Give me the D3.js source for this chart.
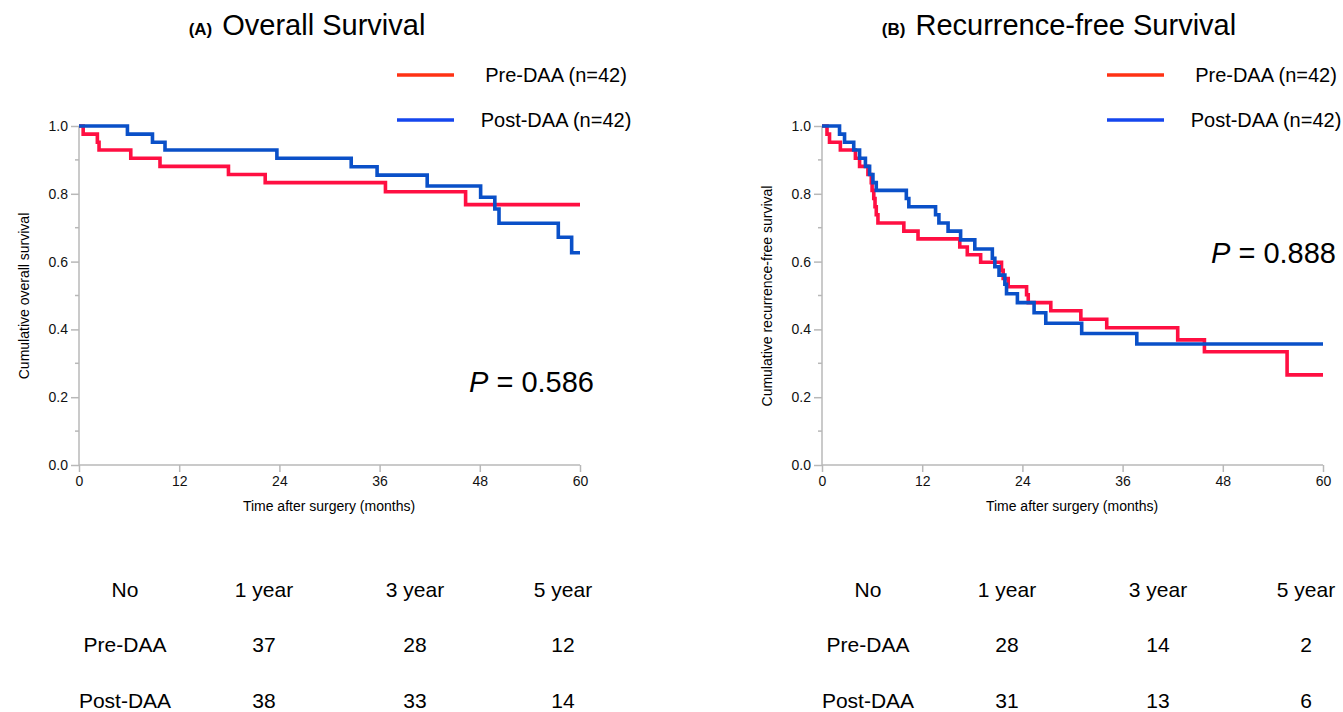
<!DOCTYPE html>
<html>
<head>
<meta charset="utf-8">
<script src="https://cdn.jsdelivr.net/npm/d3@7"></script>
<style>
  body { margin: 0; background: #fff; }
  svg { font-family: "Liberation Sans", Arial, sans-serif; }
</style>
</head>
<body>
<div id="chart"></div>
<script>
// [month, survival after the step]
const preOS = [[0,1],[0.5,0.976],[2.2,0.952],[2.4,0.929],[6.2,0.905],[9.7,0.881],[17.9,0.857],[22.3,0.833],[36.7,0.806],[46.3,0.768]];
const postOS = [[0,1],[5.8,0.976],[8.8,0.952],[10.3,0.929],[23.7,0.905],[32.6,0.88],[35.7,0.855],[41.7,0.823],[48.1,0.79],[49.8,0.755],[50.3,0.713],[57.4,0.672],[59.0,0.626]];
const preRFS = [[0,1],[0.6,0.976],[0.9,0.952],[2.2,0.929],[4.0,0.905],[4.5,0.881],[5.5,0.857],[5.9,0.833],[6.0,0.81],[6.2,0.786],[6.35,0.762],[6.5,0.738],[6.7,0.714],[9.8,0.69],[11.5,0.667],[16.5,0.643],[17.4,0.62],[19.0,0.598],[21.5,0.574],[21.7,0.55],[22.3,0.526],[24.5,0.502],[24.7,0.479],[27.4,0.455],[31.0,0.43],[34.1,0.405],[42.6,0.369],[45.8,0.334],[55.7,0.266]];
const postRFS = [[0,1],[2.1,0.976],[2.7,0.952],[3.8,0.929],[4.5,0.905],[5.2,0.881],[5.7,0.857],[6.1,0.833],[6.5,0.81],[10.1,0.786],[10.4,0.762],[13.6,0.738],[14.0,0.714],[15.1,0.69],[16.6,0.664],[18.3,0.637],[20.4,0.61],[20.7,0.585],[21.2,0.56],[21.9,0.533],[22.1,0.505],[23.4,0.479],[25.4,0.449],[26.8,0.418],[31.1,0.388],[37.7,0.357]];

const xTicks = [0, 12, 24, 36, 48, 60];
const yTicks = [0, 0.2, 0.4, 0.6, 0.8, 1.0];
const yMinor = [0.1, 0.3, 0.5, 0.7, 0.9];
const groups = ['Pre-DAA (n=42)', 'Post-DAA (n=42)'];
const tableHead = ['No', '1 year', '3 year', '5 year'];
const tableRows = ['Pre-DAA', 'Post-DAA'];
const osCounts = [[37, 28, 12], [38, 33, 14]];
const rfsCounts = [[28, 14, 2], [31, 13, 6]];

const curveColors = ['#ff0f42', '#0a50c8'];
const legendColors = ['#ff3214', '#1446ee'];
const axisColor = '#b8b8b8';

const svg = d3.select('#chart').append('svg')
    .attr('width', 1343).attr('height', 712);

function drawPanel(o) {
  const g = svg.append('g').attr('transform', 'translate(' + o.left + ',0)');
  const x = d3.scaleLinear().domain([0, 60]).range([0, 501]);
  const y = d3.scaleLinear().domain([0, 1]).range([465, 126]);

  // title
  const t = g.append('text').attr('x', o.titleX).attr('y', 35).attr('text-anchor', 'middle');
  t.append('tspan').attr('font-size', 17).attr('font-weight', 'bold').text(o.tag);
  t.append('tspan').attr('font-size', 29).attr('dx', 10).text(o.title);

  // axes
  const yAxis = g.append('g').call(d3.axisLeft(y).tickValues(yTicks).tickFormat(d3.format('.1f')).tickSize(8).tickPadding(3));
  g.append('g').selectAll('line').data(yMinor).enter().append('line')
      .attr('x1', -4).attr('x2', 0).attr('y1', d => y(d)).attr('y2', d => y(d));
  const xAxis = g.append('g').attr('transform', 'translate(0,465)')
      .call(d3.axisBottom(x).tickValues(xTicks).tickSize(7).tickPadding(4));
  g.selectAll('.domain, .tick line, g > line').attr('stroke', axisColor).attr('stroke-width', 1.5);
  g.selectAll('.tick text').attr('font-size', 14).attr('fill', '#111');
  yAxis.select('.domain').attr('d', 'M0,465V126');
  xAxis.select('.domain').attr('d', 'M0,0H501');

  g.append('text').attr('x', 250).attr('y', 511).attr('text-anchor', 'middle')
      .attr('font-size', 14).text('Time after surgery (months)');
  g.append('text').attr('transform', 'translate(' + o.yLabelX + ',296) rotate(-90)')
      .attr('text-anchor', 'middle').attr('font-size', 14).text(o.yLabel);

  // curves
  const line = d3.line().x(d => x(d[0])).y(d => y(d[1])).curve(d3.curveStepAfter);
  o.series.forEach((s, i) => {
    const pts = s.concat([[60, s[s.length - 1][1]]]);
    g.append('path').attr('d', line(pts)).attr('fill', 'none')
        .attr('stroke', curveColors[i]).attr('stroke-width', 3.6);
  });

  // legend
  groups.forEach((name, i) => {
    const ly = 75 + i * 45;
    g.append('line').attr('x1', o.legX).attr('x2', o.legX + 57).attr('y1', ly).attr('y2', ly)
        .attr('stroke', legendColors[i]).attr('stroke-width', 3.5);
    g.append('text').attr('x', o.legX + 159).attr('y', ly + 7).attr('text-anchor', 'middle')
        .attr('font-size', 20).text(name);
  });

  // p-value
  const p = g.append('text').attr('x', o.pX).attr('y', o.pY).attr('text-anchor', 'end').attr('font-size', 29);
  p.append('tspan').attr('font-style', 'italic').text('P');
  p.append('tspan').text(' = ' + o.p);

  // numbers table
  const cols = [46, 185, 336, 484];
  tableHead.forEach((h, j) => {
    g.append('text').attr('x', cols[j]).attr('y', 597).attr('text-anchor', 'middle').attr('font-size', 21).text(h);
  });
  tableRows.forEach((r, i) => {
    const ry = 652 + i * 56;
    g.append('text').attr('x', cols[0]).attr('y', ry).attr('text-anchor', 'middle').attr('font-size', 21).text(r);
    o.counts[i].forEach((c, j) => {
      g.append('text').attr('x', cols[j + 1]).attr('y', ry).attr('text-anchor', 'middle').attr('font-size', 21).text(c);
    });
  });
}

drawPanel({left: 79, tag: '(A)', title: 'Overall Survival', titleX: 228, yLabel: 'Cumulative overall survival',
  yLabelX: -50, series: [preOS, postOS], legX: 318, pX: 515, pY: 392, p: '0.586', counts: osCounts});
drawPanel({left: 822, tag: '(B)', title: 'Recurrence-free Survival', titleX: 237, yLabel: 'Cumulative recurrence-free survival',
  yLabelX: -50, series: [preRFS, postRFS], legX: 285, pX: 514, pY: 263, p: '0.888', counts: rfsCounts});
</script>
</body>
</html>
